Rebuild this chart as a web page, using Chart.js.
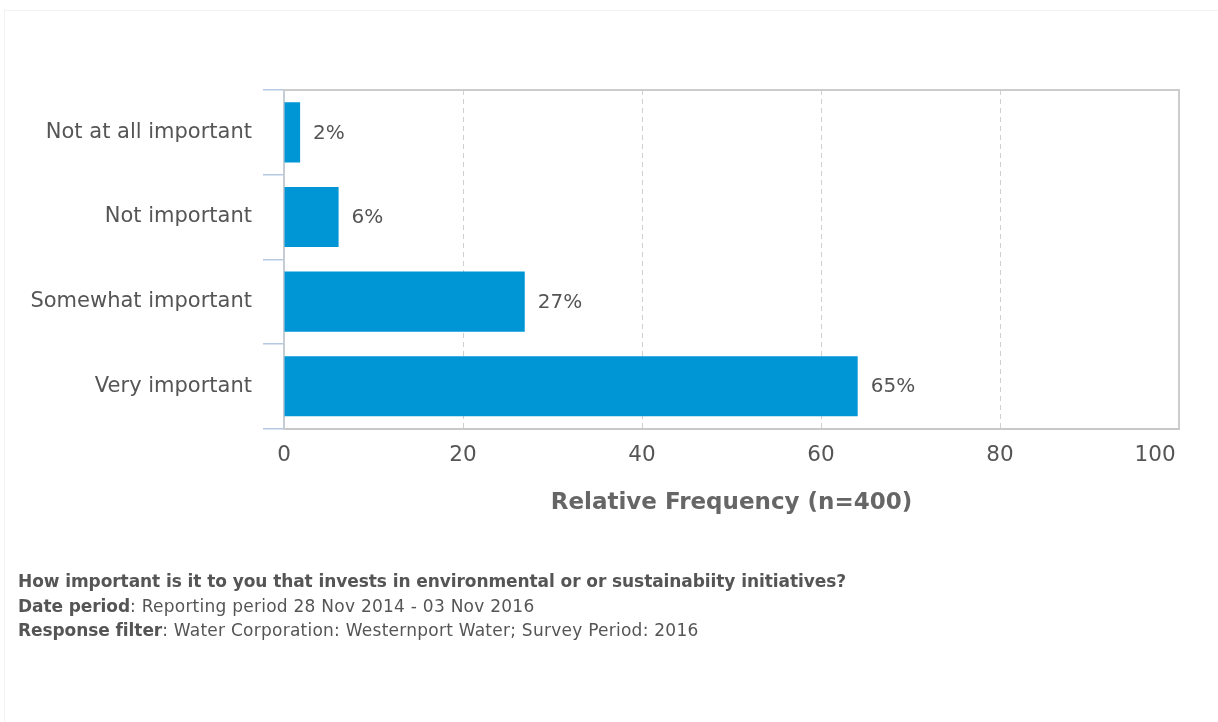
<!DOCTYPE html>
<html>
<head>
<meta charset="utf-8">
<script src="https://cdn.jsdelivr.net/npm/chart.js@4.4.1/dist/chart.umd.min.js"></script>
<style>
  html, body { margin: 0; padding: 0; background: #fff; }
  #wrap { position: relative; width: 1218px; height: 722px; overflow: hidden; }
  #frame { position: absolute; left: 4px; top: 10px; width: 1220px; height: 720px; border: 1px solid #f2f2f2; box-sizing: border-box; }
  #c { position: absolute; left: 0; top: 0; }
  #notes { position: absolute; left: 18px; top: 569px; font-family: "DejaVu Sans"; font-size: 17px; line-height: 24.5px; color: #555; white-space: nowrap; letter-spacing: 0.25px; }
  #notes b { font-weight: bold; letter-spacing: -0.08px; }
</style>
</head>
<body>
<div id="wrap">
  <div id="frame"></div>
  <canvas id="c" width="1218" height="722"></canvas>
  <div id="notes">
    <div><b>How important is it to you that invests in environmental or or sustainabiity initiatives?</b></div>
    <div><b>Date period</b>: Reporting period 28 Nov 2014 - 03 Nov 2016</div>
    <div><b>Response filter</b>: Water Corporation: Westernport Water; Survey Period: 2016</div>
  </div>
</div>
<script>
const categories = ["Not at all important", "Not important", "Somewhat important", "Very important"];
const values = [1.8, 6.1, 26.9, 64.1];
const valueLabels = ["2%", "6%", "27%", "65%"];
const xTicks = [0, 20, 40, 60, 80, 100];
const axisTitle = "Relative Frequency (n=400)";

Chart.defaults.font.family = "'DejaVu Sans', sans-serif";
Chart.defaults.color = "#555";

const frameAndLabels = {
  id: "frameAndLabels",
  afterDatasetsDraw(chart) {
    const ctx = chart.ctx;
    const a = chart.chartArea;
    ctx.save();
    ctx.strokeStyle = "#cccccc";
    ctx.lineWidth = 2;
    ctx.beginPath();
    ctx.moveTo(a.left, a.top);
    ctx.lineTo(a.right, a.top);
    ctx.lineTo(a.right, a.bottom);
    ctx.stroke();
    const meta = chart.getDatasetMeta(0);
    ctx.font = "20px 'DejaVu Sans'";
    ctx.fillStyle = "#555";
    ctx.textAlign = "left";
    ctx.textBaseline = "middle";
    meta.data.forEach((bar, i) => {
      ctx.fillText(valueLabels[i], bar.x + 13, bar.y + 1);
    });
    ctx.restore();
  }
};

new Chart(document.getElementById("c"), {
  type: "bar",
  data: {
    labels: categories,
    datasets: [{
      data: values,
      backgroundColor: "#0096d6",
      borderWidth: 0,
      categoryPercentage: 1,
      barPercentage: 0.71
    }]
  },
  options: {
    indexAxis: "y",
    responsive: false,
    animation: false,
    layout: { padding: { left: 0, right: 39, top: 90, bottom: 205 } },
    plugins: { legend: { display: false }, tooltip: { enabled: false } },
    scales: {
      x: {
        min: 0, max: 100,
        afterBuildTicks(scale) { scale.ticks = xTicks.map(v => ({ value: v })); },
        afterFit(scale) { scale.paddingRight = 0; scale.paddingLeft = 0; },
        ticks: {
          font: { size: 21.5 }, color: "#555", padding: 14,
          callback: (v) => v === xTicks[xTicks.length - 1] ? String(v) + "\u00a0".repeat(7) : String(v)
        },
        grid: { color: "#cfcfcf", drawTicks: false },
        border: { color: "#c8c8c8", width: 2, dash: [5, 4] },
        title: { display: true, text: axisTitle, color: "#666", font: { size: 23, weight: "bold" }, padding: { top: 7, bottom: 0 } }
      },
      y: {
        afterFit(scale) { scale.width = 284; },
        ticks: { font: { size: 21 }, color: "#555", padding: 11 },
        grid: { color: "#b5c9e2", lineWidth: 1.5, drawOnChartArea: false, tickLength: 21, offset: true },
        border: { color: "#c6ccd4", width: 2 }
      }
    }
  },
  plugins: [frameAndLabels]
});
</script>
</body>
</html>
